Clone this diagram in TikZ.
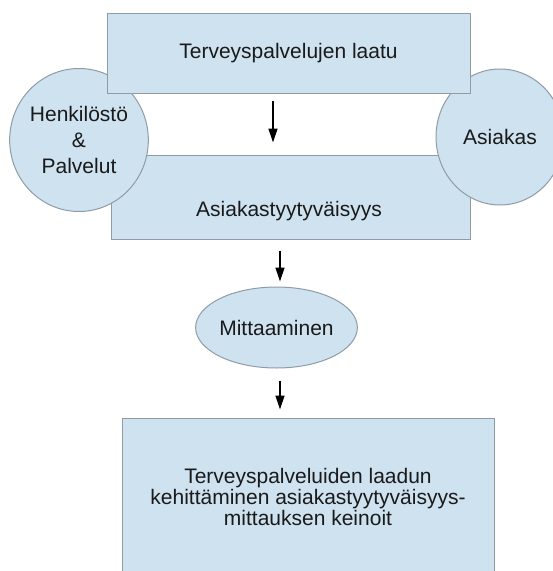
\documentclass[tikz,border=0pt]{standalone}
\usepackage{fontspec}
\setmainfont{Liberation Sans}
\usepackage{tikz}
\usetikzlibrary{arrows.meta,shapes.geometric}
\definecolor{boxfill}{HTML}{CFE2F0}
\definecolor{boxline}{HTML}{8E9CA6}
\definecolor{ink}{HTML}{1A1A1A}

\begin{document}
\begin{tikzpicture}[x=1pt, y=-1pt,
    box/.style={rectangle, draw=boxline, fill=boxfill, line width=1pt, inner sep=0pt,
                align=center, text=ink, font=\fontsize{21}{21}\selectfont},
    oval/.style={ellipse, draw=boxline, fill=boxfill, line width=1pt, inner sep=0pt,
                 align=center, text=ink, font=\fontsize{21}{26}\selectfont},
    lbl/.style={inner sep=0pt, text=ink, font=\fontsize{21}{21}\selectfont},
    arr/.style={-{Triangle[length=14pt,width=9pt]}, line width=1.3pt},
  ]
  \useasboundingbox (0,0) rectangle (553,571);
  \clip (0,0) rectangle (553,571);

  % lower box goes first, both circles lie over its top corners
  \node[box, minimum width=359pt, minimum height=84pt] (sat) at (290.5,197) {};
  \node[lbl] (satlbl) at (289,211) {Asiakastyytyväisyys};

  % the two circles at the sides
  \node[oval, minimum width=130pt, minimum height=143pt] (staff) at (79,140)
    {Henkilöstö\\\&\\Palvelut};
  \node[oval, minimum width=128pt, minimum height=136pt] (cust) at (500,137) {Asiakas};

  % top box over the circles
  \node[box, minimum width=363pt, minimum height=80pt] (qual) at (288.5,53)
    {Terveyspalvelujen laatu};

  % measuring and the result (the last box runs off the bottom)
  \node[oval, minimum width=157pt, minimum height=81pt] (meas) at (276.5,327.5) {Mittaaminen};
  \node[box, minimum width=372pt, minimum height=158pt] (dev) at (308,497)
    {Terveyspalveluiden laadun\\kehittäminen asiakastyytyväisyys-\\mittauksen keinoit};

  % arrows down the middle
  \draw[arr] ([xshift=-15.5pt,yshift=-7pt]qual.south) -- ([xshift=-17.5pt,yshift=12pt]sat.north);
  \draw[arr] ([xshift=-10.5pt,yshift=-11pt]sat.south) -- ([xshift=3.5pt,yshift=5pt]meas.north);
  \draw[arr] ([xshift=3.5pt,yshift=-12pt]meas.south) -- ([xshift=-28pt,yshift=8pt]dev.north);
\end{tikzpicture}
\end{document}
